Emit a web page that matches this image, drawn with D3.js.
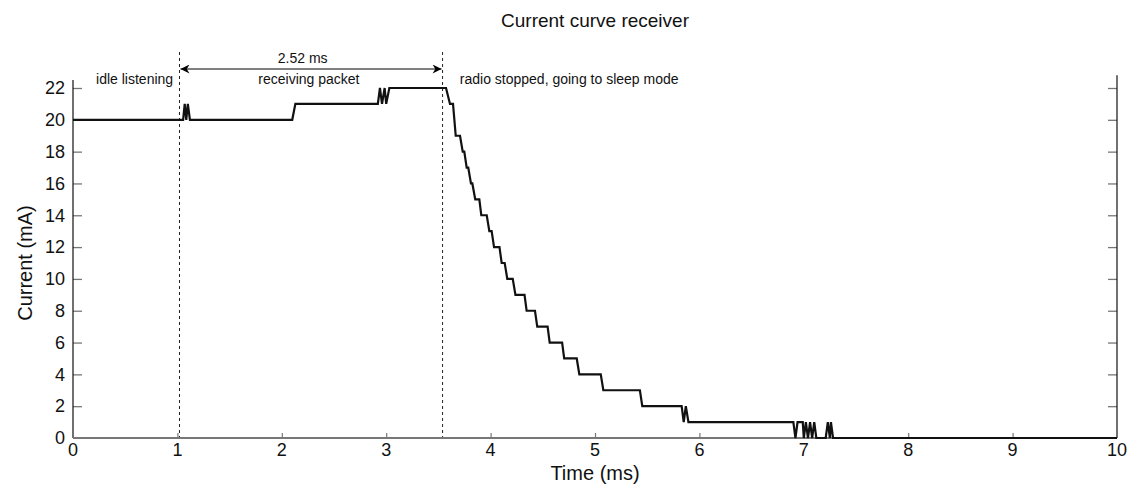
<!DOCTYPE html>
<html>
<head>
<meta charset="utf-8">
<script src="https://cdn.jsdelivr.net/npm/d3@7/dist/d3.min.js"></script>
<style>
  html, body { margin: 0; padding: 0; background: #fff; }
  svg { display: block; font-family: "Liberation Sans", Arial, Helvetica, sans-serif; }
</style>
</head>
<body>
<svg id="chart" width="1128" height="485"></svg>
<script>
// ---- data ----
const timeMs = [0, 1.055, 1.07, 1.085, 1.10, 1.12, 2.10, 2.13, 2.92, 2.94, 2.96, 2.985, 3.00, 3.03,
  3.573, 3.611, 3.640, 3.666, 3.707, 3.733, 3.748, 3.771, 3.786, 3.812, 3.825, 3.853, 3.892,
  3.911, 3.963, 3.988, 4.010, 4.033, 4.085, 4.106, 4.135, 4.160, 4.212, 4.238, 4.325, 4.345, 4.425,
  4.447, 4.546, 4.566, 4.685, 4.705, 4.825, 4.850, 5.055, 5.080, 5.430, 5.453, 5.83, 5.85, 5.87, 5.895,
  6.90, 6.92, 6.94, 6.99, 7.00, 7.02, 7.04, 7.06, 7.08, 7.10, 7.12, 7.21, 7.23, 7.25, 7.26, 7.28, 10];
const currentMa = [20, 20, 21, 20, 21, 20, 20, 21, 21, 22, 21, 22, 21, 22,
  22, 21, 21, 19, 19, 18, 18, 17, 17, 16, 16, 15, 15,
  14, 14, 13, 13, 12, 12, 11, 11, 10, 10, 9, 9, 8, 8,
  7, 7, 6, 6, 5, 5, 4, 4, 3, 3, 2, 2, 1, 2, 1,
  1, 0, 1, 1, 0, 1, 0, 1, 0, 1, 0, 0, 1, 0, 1, 0, 0];
const xTicks = [0, 1, 2, 3, 4, 5, 6, 7, 8, 9, 10];
const yTicks = [0, 2, 4, 6, 8, 10, 12, 14, 16, 18, 20, 22];
const markers = [1.02, 3.54];
const phaseLabels = [
  { text: "idle listening", t: 0.59, anchor: "middle" },
  { text: "receiving packet", t: 2.26, anchor: "middle" },
  { text: "radio stopped, going to sleep mode", t: 3.705, anchor: "start" }
];
const spanLabel = "2.52 ms";
const titleText = "Current curve receiver";
const xLabel = "Time (ms)";
const yLabel = "Current (mA)";

(function () {
  const svg = d3.select("#chart");
  const pL = 73, pR = 1117, pB = 438, pT = 88;
  const x = d3.scaleLinear().domain([0, 10]).range([pL, pR]);
  const y = d3.scaleLinear().domain([0, 22]).range([pB, pT]);

  const defs = svg.append("defs");
  ["start", "end"].forEach(k => {
    defs.append("marker")
      .attr("id", "arrow-" + k)
      .attr("viewBox", "0 0 10 10")
      .attr("refX", k === "end" ? 10 : 0).attr("refY", 5)
      .attr("markerWidth", 13).attr("markerHeight", 9)
      .attr("markerUnits", "userSpaceOnUse")
      .attr("orient", "auto")
      .append("path")
      .attr("d", k === "end" ? "M0,0 L10,5 L0,10 L3,5 Z" : "M10,0 L0,5 L10,10 L7,5 Z")
      .attr("fill", "#000");
  });

  // y axes (ticks inward)
  const yAxisL = svg.append("g").attr("transform", `translate(${pL},0)`)
    .call(d3.axisRight(y).tickValues(yTicks.slice(1)).tickSize(9).tickFormat(""));
  const yAxisR = svg.append("g").attr("transform", `translate(${pR},0)`)
    .call(d3.axisLeft(y).tickValues(yTicks.slice(1)).tickSize(9).tickFormat(""));
  [yAxisL, yAxisR].forEach(g => {
    g.select(".domain").remove();
    g.selectAll(".tick line").attr("stroke", "#777").attr("stroke-width", 1.3);
  });
  svg.append("line").attr("x1", pL).attr("x2", pL).attr("y1", y(22.5)).attr("y2", pB)
    .attr("stroke", "#111").attr("stroke-width", 1.2);
  svg.append("line").attr("x1", pR).attr("x2", pR).attr("y1", y(22.8)).attr("y2", pB)
    .attr("stroke", "#111").attr("stroke-width", 1.2);

  svg.append("g").selectAll("text").data(yTicks).join("text")
    .attr("x", pL - 8).attr("y", d => y(d)).attr("dy", "0.35em")
    .attr("text-anchor", "end").attr("font-size", 18).attr("fill", "#111")
    .text(d => d);

  // x axis (ticks inward)
  const xAxis = svg.append("g").attr("transform", `translate(0,${pB})`)
    .call(d3.axisTop(x).tickValues(xTicks.slice(1, -1)).tickSize(5).tickFormat(""));
  xAxis.select(".domain").remove();
  xAxis.selectAll(".tick line").attr("stroke", "#777").attr("stroke-width", 1.2);
  svg.append("g").selectAll("text").data(xTicks).join("text")
    .attr("x", d => x(d)).attr("y", pB + 18)
    .attr("text-anchor", "middle").attr("font-size", 18).attr("fill", "#111")
    .text(d => d);

  // dashed markers
  svg.append("g").selectAll("line").data(markers).join("line")
    .attr("x1", d => x(d)).attr("x2", d => x(d))
    .attr("y1", 52).attr("y2", pB)
    .attr("stroke", "#222").attr("stroke-width", 1).attr("stroke-dasharray", "3,3");

  svg.append("line")
    .attr("x1", x(markers[0]) + 1).attr("x2", x(markers[1]) - 1)
    .attr("y1", 69).attr("y2", 69)
    .attr("stroke", "#000").attr("stroke-width", 1)
    .attr("marker-start", "url(#arrow-start)").attr("marker-end", "url(#arrow-end)");
  svg.append("text").attr("x", x(2.20)).attr("y", 63)
    .attr("text-anchor", "middle").attr("font-size", 14).attr("fill", "#111").text(spanLabel);

  svg.append("g").selectAll("text").data(phaseLabels).join("text")
    .attr("x", d => x(d.t)).attr("y", 84)
    .attr("text-anchor", d => d.anchor).attr("font-size", 14).attr("fill", "#111")
    .text(d => d.text);

  svg.append("line").attr("x1", pL).attr("x2", pR).attr("y1", pB).attr("y2", pB)
    .attr("stroke", "#777").attr("stroke-width", 2.2);

  const data = timeMs.map((t, i) => ({ t, v: currentMa[i] }));
  svg.append("path").datum(data)
    .attr("fill", "none").attr("stroke", "#111").attr("stroke-width", 2.2)
    .attr("d", d3.line().x(d => x(d.t)).y(d => y(d.v)));

  svg.append("text").attr("x", x(5)).attr("y", 27).attr("text-anchor", "middle")
    .attr("font-size", 19).attr("fill", "#111").text(titleText);
  svg.append("text").attr("x", x(5)).attr("y", 480).attr("text-anchor", "middle")
    .attr("font-size", 20).attr("fill", "#111").text(xLabel);
  svg.append("text").attr("transform", `translate(32,${(pT + pB) / 2}) rotate(-90)`)
    .attr("text-anchor", "middle").attr("font-size", 20).attr("fill", "#111").text(yLabel);
})();
</script>
</body>
</html>
